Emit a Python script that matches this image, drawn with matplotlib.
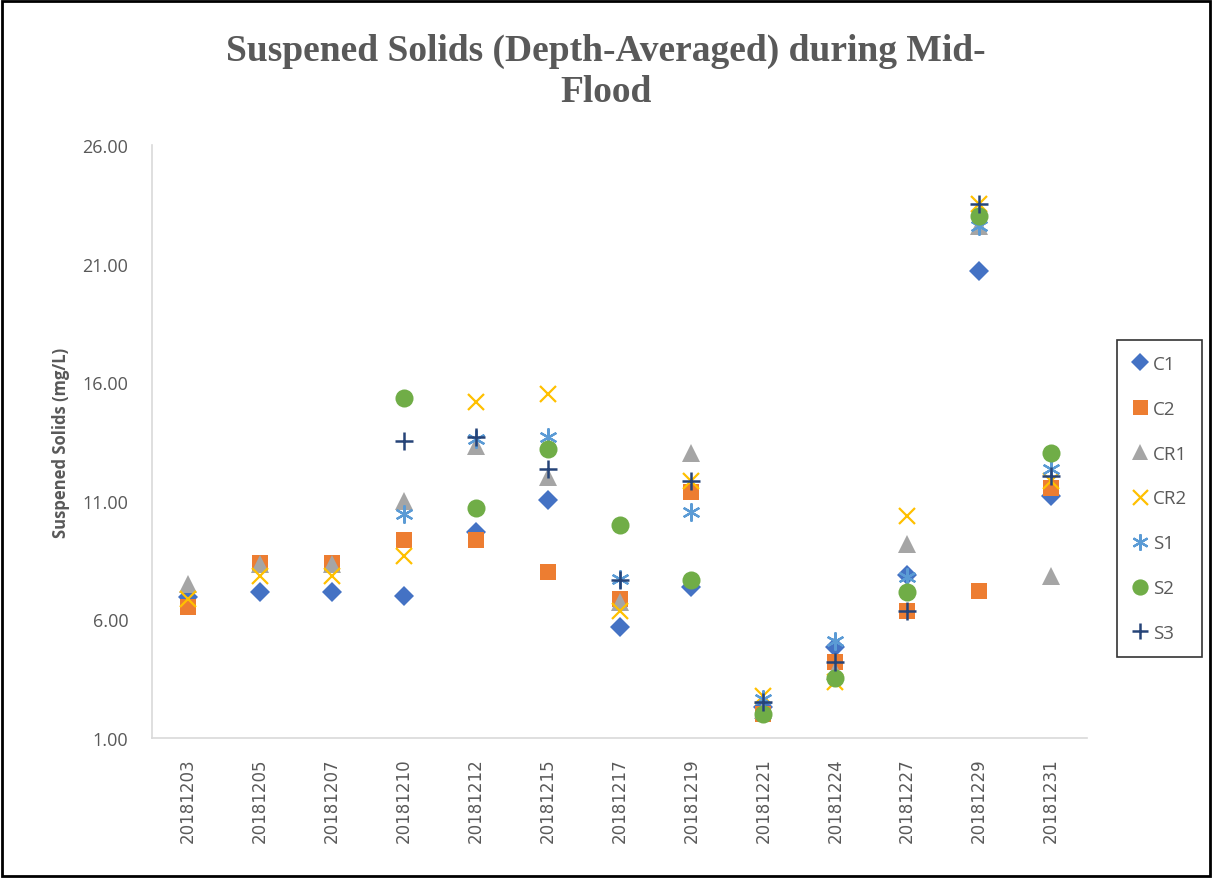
import numpy as np
import matplotlib
matplotlib.use("Agg")
import matplotlib.pyplot as plt

dates = ["20181203", "20181205", "20181207", "20181210", "20181212", "20181215",
         "20181217", "20181219", "20181221", "20181224", "20181227", "20181229", "20181231"]
nan = np.nan
C1  = [6.95, 7.16, 7.16, 7.00, 9.68, 11.03, 5.66, 7.37, 2.30, 4.83, 7.89, 20.67, 11.21]
C2  = [6.52, 8.38, 8.38, 9.35, 9.35, 8.01, 6.86, 11.35, 2.01, 4.20, 6.37, 7.18, 11.53]
CR1 = [7.49, 8.33, 8.35, 11.00, 13.32, 12.00, 6.73, 13.02, 2.20, 3.84, 9.18, 22.60, 7.84]
CR2 = [6.86, 7.83, 7.83, 8.67, 15.18, 15.50, 6.37, 11.85, 2.78, 3.35, 10.35, 23.50, 11.85]
S1  = [nan, nan, nan, 10.44, 13.60, 13.70, 7.70, 10.51, 2.64, 5.10, 7.80, 22.60, 12.34]
S2  = [nan, nan, nan, 15.33, 10.68, 13.18, 9.99, 7.67, 2.00, 3.53, 7.17, 23.02, 13.00]
S3  = [nan, nan, nan, 13.53, 13.68, 12.34, 7.68, 11.85, 2.50, 4.20, 6.36, 23.51, 12.06]

series = [
    ("C1", C1, "D", "#4472C4", 10, 0),
    ("C2", C2, "s", "#ED7D31", 12, 0),
    ("CR1", CR1, "^", "#A5A5A5", 13, 0),
    ("CR2", CR2, "x", "#FFC000", 12, 1.6),
    ("S1", S1, (6, 2, 0), "#5B9BD5", 13, 1.6),
    ("S2", S2, "o", "#70AD47", 13, 0),
    ("S3", S3, "+", "#264478", 13, 1.8),
]

fig = plt.figure(figsize=(12.12, 8.79), dpi=100)
ax = fig.add_axes([152/1212, 1 - 739/879, (1087-152)/1212, (739-146)/879])

x = np.arange(len(dates))
handles = []
for name, vals, mk, col, ms, mew in series:
    h, = ax.plot(x, vals, linestyle="none", marker=mk, color=col, markersize=ms,
                 markeredgewidth=mew, label=name)
    handles.append(h)

ax.set_xlim(-0.5, len(dates) - 0.5)
ax.set_ylim(1, 26)
ax.set_yticks([1, 6, 11, 16, 21, 26])
ax.set_yticklabels([f"{v:.2f}" for v in [1, 6, 11, 16, 21, 26]], fontsize=13,
                   color="#595959", family="Open Sans")
ax.set_xticks(x)
ax.set_xticklabels(dates, rotation=90, fontsize=12, color="#595959", family="DejaVu Sans")
ax.tick_params(axis="both", length=0)
ax.tick_params(axis="y", pad=17)
ax.tick_params(axis="x", pad=14)
for s in ["top", "right"]:
    ax.spines[s].set_visible(False)
for s in ["left", "bottom"]:
    ax.spines[s].set_color("#D9D9D9")
    ax.spines[s].set_linewidth(1.2)

ax.set_ylabel("Suspened Solids (mg/L)", fontsize=12, fontweight="bold", color="#595959",
              family="Open Sans", labelpad=9)

fig.text(0.5, 1 - 51/879, "Suspened Solids (Depth-Averaged) during Mid-", ha="center",
         va="center", fontsize=27, fontweight="bold", color="#595959",
         family="Liberation Serif")
fig.text(0.5, 1 - 93/879, "Flood", ha="center", va="center", fontsize=27,
         fontweight="bold", color="#595959", family="Liberation Serif")

leg = fig.legend(handles=handles, loc="upper left",
                 bbox_to_anchor=(1117/1212, 1 - 341/879), borderaxespad=0,
                 frameon=True, fancybox=False,
                 labelspacing=1.43, handlelength=0.8, handletextpad=0.3,
                 borderpad=0.8, markerscale=0.9, prop={"family": "Open Sans", "size": 13.5})
leg.get_frame().set_edgecolor("black")
leg.get_frame().set_linewidth(1.2)
for t in leg.get_texts():
    t.set_color("#595959")

border = plt.Rectangle((0.002, 0.002), 0.996, 0.996, transform=fig.transFigure,
                       fill=False, edgecolor="black", linewidth=2)
fig.patches.append(border)

fig.savefig("out.png", dpi=100)
